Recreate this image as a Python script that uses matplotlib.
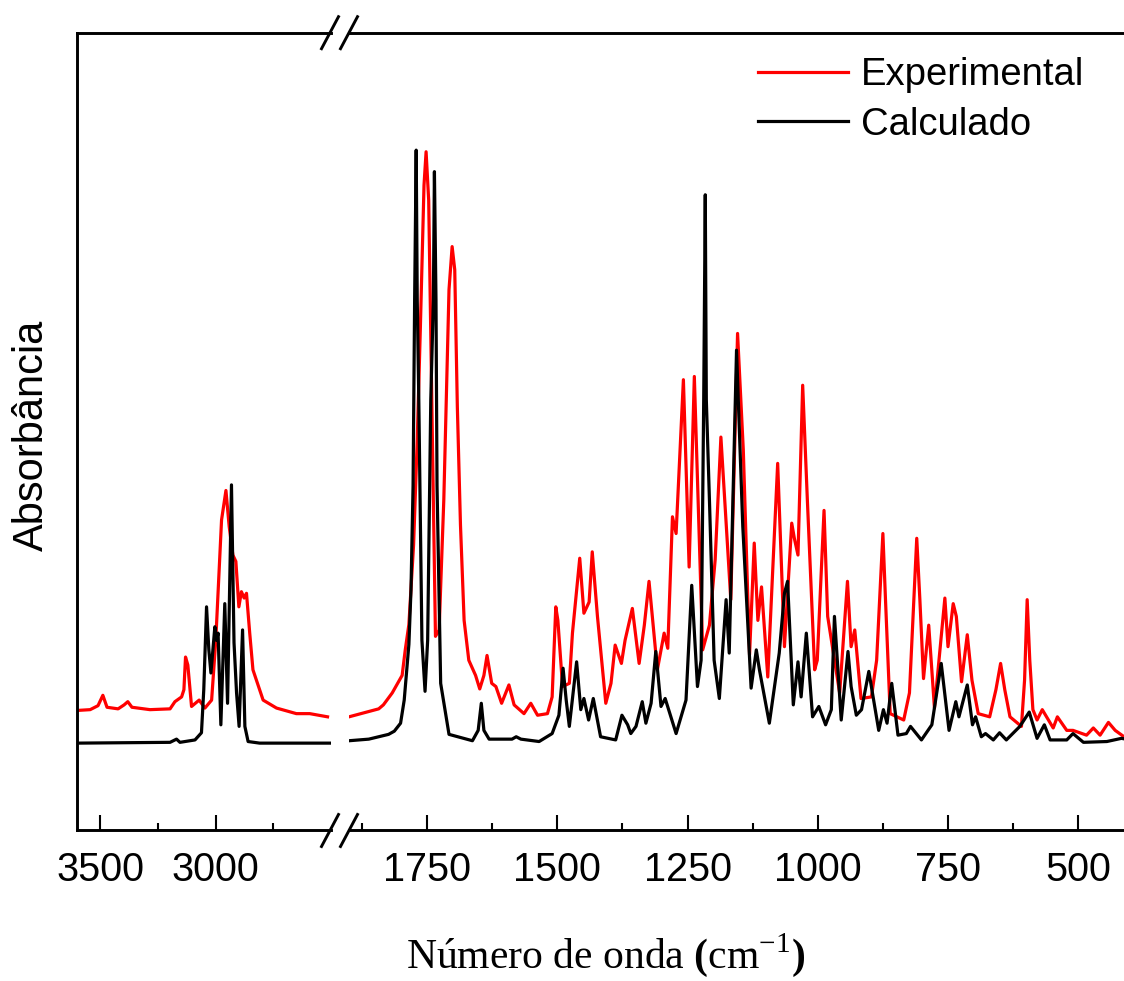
import matplotlib
matplotlib.use('Agg')
import matplotlib.pyplot as plt
from matplotlib.lines import Line2D

# --- data (wavenumber in cm-1, absorbance in arbitrary units) ---
# high-wavenumber window (3600-2500 cm-1)
exp_hi_wn = [3599, 3543, 3509, 3488, 3470, 3422, 3396, 3380, 3362, 3284, 3197, 3176, 3147,
             3137, 3130, 3120, 3104, 3071, 3046, 3017, 2999, 2974, 2955, 2941, 2925, 2912,
             2899, 2888, 2876, 2866, 2852, 2838, 2823, 2794, 2736, 2650, 2592, 2515]
exp_hi_abs = [0.150, 0.151, 0.156, 0.169, 0.154, 0.152, 0.157, 0.161, 0.154, 0.151, 0.152, 0.161,
              0.167, 0.176, 0.217, 0.207, 0.155, 0.163, 0.153, 0.163, 0.238, 0.389, 0.426, 0.381,
              0.345, 0.337, 0.280, 0.299, 0.291, 0.297, 0.247, 0.201, 0.188, 0.163, 0.153, 0.146,
              0.146, 0.142]

calc_hi_wn = [3599, 3197, 3169, 3154, 3089, 3061, 3051, 3039, 3029, 3020, 3003, 2996, 2989,
              2977, 2960, 2948, 2931, 2920, 2909, 2898, 2883, 2873, 2859, 2809, 2506]
calc_hi_abs = [0.109, 0.110, 0.114, 0.110, 0.113, 0.122, 0.176, 0.280, 0.226, 0.197, 0.255, 0.238,
               0.247, 0.132, 0.284, 0.159, 0.433, 0.235, 0.172, 0.130, 0.251, 0.130, 0.111, 0.109,
               0.109]

# fingerprint window (1900-400 cm-1)
exp_lo_wn = [1900, 1843, 1834, 1817, 1798, 1792, 1785, 1776, 1769, 1763, 1756, 1752, 1747, 1741,
             1734, 1727, 1718, 1708, 1702, 1697, 1692, 1686, 1679, 1670, 1657, 1649, 1641, 1635,
             1626, 1618, 1607, 1593, 1583, 1564, 1551, 1538, 1519, 1510, 1503, 1499, 1490, 1477,
             1471, 1457, 1449, 1439, 1433, 1423, 1407, 1397, 1389, 1377, 1370, 1356, 1343, 1333,
             1324, 1308, 1295, 1288, 1279, 1272, 1258, 1247, 1237, 1221, 1208, 1197, 1186, 1167,
             1154, 1143, 1131, 1122, 1115, 1108, 1096, 1077, 1064, 1050, 1045, 1038, 1029, 1020,
             1006, 1001, 988, 981, 958, 943, 936, 929, 917, 897, 887, 875, 870, 861, 835, 824,
             810, 804, 797, 787, 776, 756, 750, 740, 734, 724, 713, 704, 692, 670, 658, 649, 641,
             631, 609, 603, 598, 593, 587, 579, 569, 548, 540, 522, 510, 484, 471, 458, 442, 429,
             412, 400]
exp_lo_abs = [0.142, 0.152, 0.157, 0.172, 0.194, 0.226, 0.258, 0.358, 0.489, 0.630, 0.809, 0.851,
              0.790, 0.540, 0.243, 0.251, 0.414, 0.678, 0.732, 0.703, 0.531, 0.383, 0.263, 0.213,
              0.194, 0.177, 0.194, 0.219, 0.184, 0.180, 0.159, 0.182, 0.157, 0.146, 0.159, 0.144,
              0.146, 0.167, 0.280, 0.263, 0.180, 0.184, 0.247, 0.341, 0.272, 0.286, 0.349, 0.268,
              0.159, 0.184, 0.232, 0.209, 0.238, 0.278, 0.209, 0.257, 0.312, 0.201, 0.247, 0.228,
              0.393, 0.372, 0.565, 0.330, 0.569, 0.226, 0.257, 0.339, 0.493, 0.289, 0.623, 0.477,
              0.220, 0.360, 0.263, 0.305, 0.192, 0.460, 0.230, 0.385, 0.366, 0.345, 0.558, 0.414,
              0.201, 0.213, 0.401, 0.268, 0.172, 0.312, 0.230, 0.251, 0.165, 0.167, 0.213, 0.372,
              0.289, 0.146, 0.138, 0.172, 0.366, 0.289, 0.190, 0.257, 0.153, 0.291, 0.230, 0.284,
              0.268, 0.186, 0.245, 0.188, 0.146, 0.142, 0.176, 0.209, 0.176, 0.142, 0.130, 0.188,
              0.289, 0.213, 0.151, 0.138, 0.151, 0.128, 0.142, 0.125, 0.125, 0.119, 0.128, 0.119,
              0.135, 0.125, 0.117, 0.115]

calc_lo_wn = [1900, 1862, 1824, 1813, 1801, 1794, 1785, 1781, 1777, 1774, 1771, 1769, 1766, 1760,
              1754, 1749, 1743, 1738, 1736, 1733, 1731, 1724, 1708, 1663, 1652, 1646, 1641, 1631,
              1587, 1579, 1570, 1535, 1510, 1497, 1489, 1483, 1477, 1463, 1455, 1449, 1440, 1431,
              1417, 1388, 1376, 1365, 1359, 1349, 1337, 1330, 1320, 1311, 1301, 1293, 1272, 1253,
              1242, 1231, 1224, 1219, 1216, 1214, 1208, 1199, 1189, 1176, 1170, 1156, 1144, 1128,
              1118, 1112, 1093, 1074, 1064, 1058, 1047, 1038, 1032, 1022, 1010, 998, 985, 974, 968,
              955, 942, 936, 926, 916, 902, 883, 874, 867, 858, 846, 830, 822, 801, 781, 763, 748,
              735, 729, 713, 703, 697, 686, 678, 663, 651, 638, 612, 594, 579, 565, 554, 522, 510,
              490, 445, 417, 400]
calc_lo_abs = [0.112, 0.114, 0.120, 0.124, 0.134, 0.163, 0.233, 0.301, 0.432, 0.665, 0.853, 0.665,
               0.540, 0.238, 0.174, 0.238, 0.540, 0.665, 0.826, 0.665, 0.432, 0.184, 0.120, 0.112,
               0.125, 0.159, 0.125, 0.114, 0.114, 0.117, 0.114, 0.111, 0.121, 0.144, 0.203, 0.163,
               0.130, 0.211, 0.151, 0.165, 0.138, 0.165, 0.117, 0.113, 0.144, 0.132, 0.121, 0.130,
               0.161, 0.134, 0.159, 0.224, 0.155, 0.165, 0.121, 0.163, 0.307, 0.180, 0.213, 0.540,
               0.797, 0.540, 0.414, 0.213, 0.165, 0.289, 0.222, 0.602, 0.381, 0.178, 0.226, 0.201,
               0.134, 0.222, 0.297, 0.312, 0.157, 0.211, 0.167, 0.247, 0.142, 0.155, 0.132, 0.151,
               0.268, 0.138, 0.224, 0.180, 0.144, 0.151, 0.199, 0.125, 0.151, 0.134, 0.184, 0.119,
               0.121, 0.130, 0.113, 0.132, 0.209, 0.125, 0.161, 0.142, 0.182, 0.132, 0.142, 0.117,
               0.121, 0.113, 0.122, 0.113, 0.130, 0.148, 0.115, 0.132, 0.113, 0.113, 0.121, 0.110,
               0.111, 0.115, 0.113]

hi_ticks = [3500, 3000]
hi_minor = [3250, 2750]
lo_ticks = [1750, 1500, 1250, 1000, 750, 500]
lo_minor = [1875, 1625, 1375, 1125, 875, 625]

plt.rcParams['font.family'] = ['Liberation Sans', 'DejaVu Sans']
plt.rcParams['mathtext.fontset'] = 'custom'
plt.rcParams['mathtext.rm'] = 'Liberation Serif'
plt.rcParams['mathtext.bf'] = 'Liberation Serif:bold'

W, H = 1124, 981
fig = plt.figure(figsize=(W / 100, H / 100), dpi=100)

bottom = 1 - 830 / H
height = 797 / H
ax1 = fig.add_axes([77 / W, bottom, 254 / W, height])
ax2 = fig.add_axes([349 / W, bottom, (1130.3 - 349) / W, height])

red = '#ff0000'
lw = 2.3
ax1.plot(exp_hi_wn, exp_hi_abs, color=red, lw=lw)
ax1.plot(calc_hi_wn, calc_hi_abs, color='black', lw=lw)
l_exp, = ax2.plot(exp_lo_wn, exp_lo_abs, color=red, lw=lw, label='Experimental')
l_calc, = ax2.plot(calc_lo_wn, calc_lo_abs, color='black', lw=lw, label='Calculado')

ax1.set_xlim(3600, 2500)
ax2.set_xlim(1900, 400)
for ax in (ax1, ax2):
    ax.set_ylim(0, 1)
    ax.set_yticks([])
    for s in ax.spines.values():
        s.set_linewidth(2.1)
    ax.tick_params(axis='x', which='both', direction='in', top=False, width=1.5,
                   labelsize=28.5, pad=15)
    ax.tick_params(axis='x', which='major', length=11)
    ax.tick_params(axis='x', which='minor', length=5.3)

ax1.spines['right'].set_visible(False)
ax2.spines['left'].set_visible(False)
ax2.spines['right'].set_visible(False)

ax1.set_xticks(hi_ticks)
ax1.set_xticks(hi_minor, minor=True)
ax2.set_xticks(lo_ticks)
ax2.set_xticks(lo_minor, minor=True)

# axis break marks
for cx in (330, 349):
    for cy in (32.7, 830.5):
        fig.add_artist(Line2D([(cx - 8.5) / W, (cx + 8.5) / W],
                              [1 - (cy + 16) / H, 1 - (cy - 16) / H],
                              transform=fig.transFigure, color='black', lw=2.1))

ax1.set_ylabel('Absorbância', fontsize=30)
ax1.yaxis.set_label_coords(-0.098, 0.495)

fig.text(606 / W, 1 - 968 / H,
         r'Número de onda $\mathbf{(}\mathrm{cm}^{\mathrm{-1}}\mathbf{)}$',
         family='Liberation Serif', fontsize=30, ha='center', va='baseline')

ax2.legend(handles=[l_exp, l_calc], loc='upper left',
           bbox_to_anchor=(758 / W, 1 - 57 / H), bbox_transform=fig.transFigure,
           frameon=False, fontsize=27.5, borderpad=0, borderaxespad=0,
           handlelength=2.36, handletextpad=0.33, labelspacing=0.36)

fig.savefig('out.png', dpi=100)
